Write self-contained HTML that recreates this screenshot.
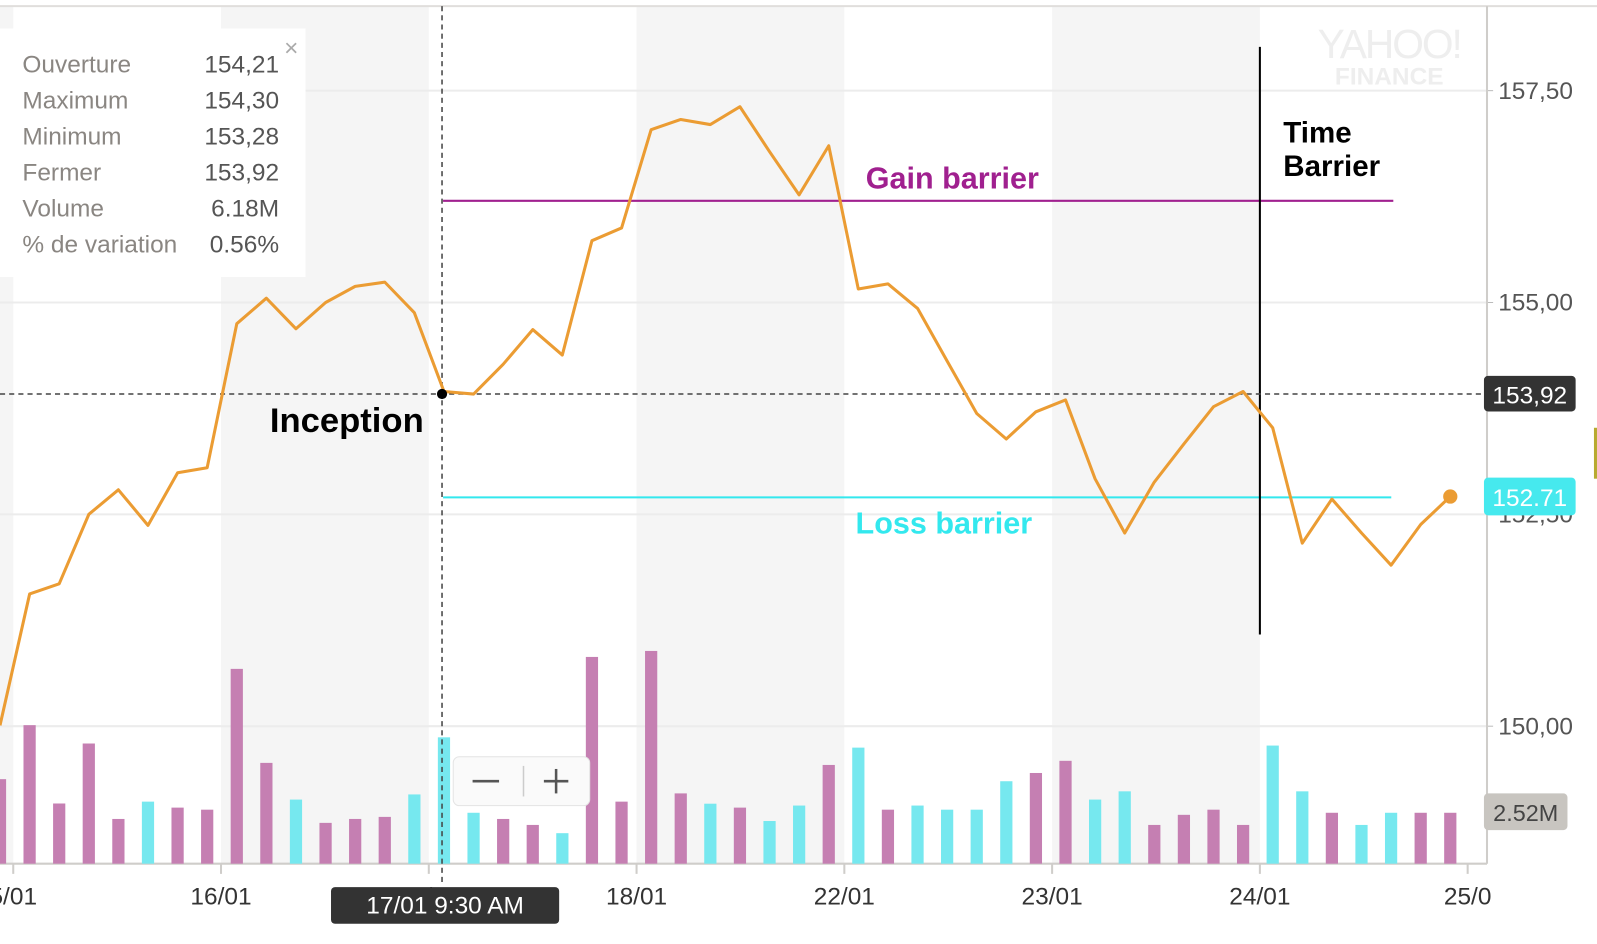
<!DOCTYPE html>
<html><head><meta charset="utf-8">
<style>
body{margin:0;background:#fff;width:1597px;height:944px;overflow:hidden;font-family:"Liberation Sans",sans-serif;}
svg{display:block}
</style></head>
<body>
<svg id="chart" width="1597" height="944" xmlns="http://www.w3.org/2000/svg"><g id="root" transform="scale(1.0185)"></g></svg>
<script>
const dayLabels=["5/01","16/01","17/01","18/01","22/01","23/01","24/01","25/0"];
const priceTicks=[150,152.5,155,157.5];
const priceTickLabels=["150,00","152,50","155,00","157,50"];
const prices=[150.01,151.56,151.68,152.50,152.79,152.37,152.99,153.05,154.75,155.05,154.69,155.00,155.19,155.24,154.88,153.95,153.92,154.27,154.68,154.38,155.73,155.88,157.04,157.16,157.10,157.31,156.78,156.27,156.85,155.16,155.22,154.93,154.31,153.69,153.39,153.71,153.85,152.92,152.28,152.88,153.33,153.77,153.95,153.52,152.16,152.68,152.28,151.90,152.38,152.71];
const volumes=[4.10,6.72,2.92,5.83,2.17,3.01,2.72,2.62,9.45,4.89,3.11,1.98,2.17,2.27,3.36,6.13,2.47,2.17,1.88,1.48,10.03,3.01,10.32,3.41,2.91,2.72,2.07,2.82,4.79,5.63,2.62,2.82,2.62,2.62,4.00,4.40,4.99,3.11,3.51,1.88,2.37,2.62,1.88,5.73,3.51,2.47,1.88,2.47,2.47,2.47];
const volUp=[0,0,0,0,0,1,0,0,0,0,1,0,0,0,1,1,1,0,0,1,0,0,0,0,1,0,1,1,0,1,0,1,1,1,1,0,0,1,1,0,0,0,0,1,1,0,1,1,0,0];
const gainBarrier=156.2, lossBarrier=152.7, inceptionPrice=153.92, lastPrice=152.71;

const NS="http://www.w3.org/2000/svg";
const svg=document.getElementById('root');
function mk(tag,attrs,parent){const e=document.createElementNS(NS,tag);for(const k in attrs)e.setAttribute(k,attrs[k]);(parent||svg).appendChild(e);return e;}
const yP=p=>297-(p-155)*83.2;
const xI=i=>i*29.06;
const yV=v=>848-v*20.24;
const xDay=d=>13+d*204;

[[0,13],[217,421],[625,829],[1033,1237]].forEach(b=>{const r=mk('rect',{x:b[0],y:6,width:b[1]-b[0],height:842,fill:'#f5f5f5'});

});
mk('line',{x1:0,y1:6,x2:1597,y2:6,stroke:'#e0dedc','stroke-width':2});
let t=mk('text',{x:1364,y:57,'font-size':40,fill:'#eeeeee','text-anchor':'middle','letter-spacing':-2});t.textContent='YAHOO!';

t=mk('text',{x:1364,y:83,'font-size':24,'font-weight':'bold',fill:'#eeeeee','text-anchor':'middle'});t.textContent='FINANCE';

priceTicks.forEach((p,i)=>{
 const g=mk('line',{x1:0,y1:yP(p),x2:1460,y2:yP(p),stroke:'#ececec','stroke-width':2});
 
 mk('line',{x1:1460,y1:yP(p),x2:1466,y2:yP(p),stroke:'#bbb'});
 const l=mk('text',{x:1471,y:yP(p)+8,'font-size':24,fill:'#555'});l.textContent=priceTickLabels[i];
 
});
mk('line',{x1:1460,y1:6,x2:1460,y2:848,stroke:'#cfcdca','stroke-width':2});
mk('line',{x1:0,y1:848,x2:1460,y2:848,stroke:'#cfcdca','stroke-width':2});
dayLabels.forEach((d,i)=>{
 const x=xDay(i);
 mk('line',{x1:x,y1:848,x2:x,y2:858,stroke:'#cfcdca','stroke-width':2});
 const l=mk('text',{x:x,y:888,'font-size':24,fill:'#333','text-anchor':'middle'});l.textContent=d;
 
});
volumes.forEach((v,i)=>{
 const b=mk('rect',{x:xI(i)-6,y:yV(v),width:12,height:848-yV(v),fill:volUp[i]?'#76e8ef':'#c57fb2'});
 
});
let e=mk('line',{x1:435,y1:yP(gainBarrier),x2:1368,y2:yP(gainBarrier),stroke:'#a0208f','stroke-width':2});

e=mk('line',{x1:435,y1:yP(lossBarrier),x2:1366,y2:yP(lossBarrier),stroke:'#33e8ee','stroke-width':2});

e=mk('line',{x1:1237,y1:46,x2:1237,y2:623,stroke:'#000','stroke-width':2});

e=mk('line',{x1:0,y1:yP(inceptionPrice),x2:1460,y2:yP(inceptionPrice),stroke:'#444','stroke-width':1.5,'stroke-dasharray':'5,4'});

e=mk('line',{x1:434,y1:6,x2:434,y2:870,stroke:'#444','stroke-width':1.5,'stroke-dasharray':'5,4'});

const pts=prices.map((p,i)=>xI(i).toFixed(1)+','+yP(p).toFixed(1)).join(' ');
e=mk('polyline',{points:pts,fill:'none',stroke:'#eb9c33','stroke-width':3,'stroke-linejoin':'round'});

e=mk('circle',{cx:xI(prices.length-1),cy:yP(lastPrice),r:7,fill:'#eb9c33'});

e=mk('circle',{cx:434,cy:yP(inceptionPrice),r:5,fill:'#000'});

function txt(x,y,s,size,fill,name,anchor){const q=mk('text',{x:x,y:y,'font-size':size,'font-weight':'bold',fill:fill,'text-anchor':anchor||'start'});q.textContent=s;
return q;}
txt(850,185,'Gain barrier',30,'#a0208f','gain-barrier-label');
txt(840,524,'Loss barrier',30,'#33e8ee','loss-barrier-label');
txt(265,424,'Inception',34,'#000','inception-label');
txt(1260,140,'Time',29,'#000','time-barrier-label');
txt(1260,173,'Barrier',29,'#000','time-barrier-label-2');
e=mk('rect',{x:1457,y:369,width:90,height:35,rx:4,fill:'#333'});

t=mk('text',{x:1502,y:396,'font-size':24,fill:'#fff','text-anchor':'middle'});t.textContent='153,92';
e=mk('rect',{x:1457,y:469,width:90,height:37,rx:4,fill:'#46e9ee'});

t=mk('text',{x:1502,y:497,'font-size':24,fill:'#fff','text-anchor':'middle'});t.textContent='152.71';
e=mk('rect',{x:1457,y:779,width:82,height:36,rx:4,fill:'#c8c5c0'});

t=mk('text',{x:1498,y:806,'font-size':23,fill:'#444','text-anchor':'middle'});t.textContent='2.52M';
mk('rect',{x:1565,y:420,width:3,height:50,fill:'#b8aa30'});
e=mk('rect',{x:325,y:871,width:224,height:36,rx:4,fill:'#333'});

t=mk('text',{x:437,y:897,'font-size':24,fill:'#fff','text-anchor':'middle'});t.textContent='17/01 9:30 AM';
e=mk('rect',{x:445,y:743,width:134,height:48,rx:6,fill:'#fafafa',stroke:'#e4e4e4'});

mk('line',{x1:514,y1:752,x2:514,y2:782,stroke:'#ccc','stroke-width':1.5});
e=mk('rect',{x:445,y:743,width:69,height:48,fill:'transparent'});

mk('line',{x1:464,y1:767,x2:490,y2:767,stroke:'#555','stroke-width':2.5});
e=mk('rect',{x:514,y:743,width:65,height:48,fill:'transparent'});

mk('line',{x1:534,y1:767,x2:558,y2:767,stroke:'#555','stroke-width':2.5});
mk('line',{x1:546,y1:755,x2:546,y2:779,stroke:'#555','stroke-width':2.5});
e=mk('rect',{x:0,y:28,width:300,height:244,fill:'#fff',opacity:0.97});

const tipK=["Ouverture","Maximum","Minimum","Fermer","Volume","% de variation"];
const tipV=["154,21","154,30","153,28","153,92","6.18M","0.56%"];
tipK.forEach((k,i)=>{
 const y=71+i*35.4;
 let a=mk('text',{x:22,y:y,'font-size':24,fill:'#8a8682'});a.textContent=k;
 
 a=mk('text',{x:274,y:y,'font-size':24,fill:'#555','text-anchor':'end'});a.textContent=tipV[i];
 
});
e=mk('text',{x:286,y:55,'font-size':24,fill:'#aaa','text-anchor':'middle'});e.textContent='×';

</script>
</body></html>
